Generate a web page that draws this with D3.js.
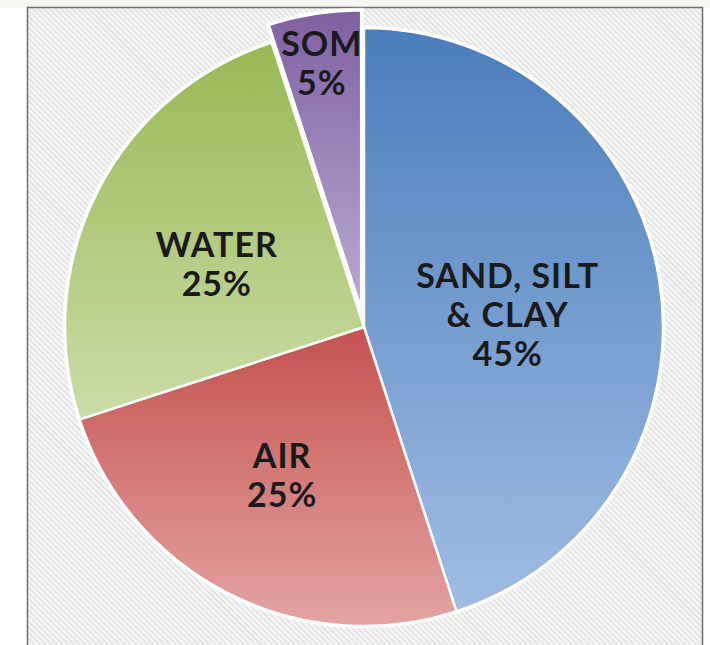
<!DOCTYPE html>
<html lang="en">
<head>
<meta charset="utf-8">
<title>Soil composition pie</title>
<script src="https://cdn.jsdelivr.net/npm/d3@7"></script>
<style>
  body { margin: 0; background: #ffffff; }
  svg { display: block; }
</style>
</head>
<body>
<script>
  // data
  var categories = ["SAND, SILT & CLAY", "AIR", "WATER", "SOM"];
  var nameLines = [["SAND, SILT", "& CLAY"], ["AIR"], ["WATER"], ["SOM"]];
  var values = [45, 25, 25, 5];
  var percentLabels = ["45%", "25%", "25%", "5%"];

  // layout / style
  var w = 710, h = 645;
  var cx = 364, cy = 327, r = 299;
  var explode = [0, 0, 0, 18];
  var topColors = ["#4a7dbb", "#c4524f", "#98b954", "#7f60a2"];
  var bottomColors = ["#a0bde3", "#e3a4a2", "#cadca7", "#bbabd1"];
  // labels were hand placed in the original, so nudge them off the centroid
  var labelNudge = [[-4, 11], [-14, 15], [-14, 5], [-16, -98]];
  var lineHeight = 39;

  var svg = d3.select("body").append("svg")
      .attr("width", w)
      .attr("height", h);

  var defs = svg.append("defs");

  // hatched background
  var pat = defs.append("pattern")
      .attr("id", "hatch")
      .attr("patternUnits", "userSpaceOnUse")
      .attr("width", 4)
      .attr("height", 4)
      .attr("patternTransform", "rotate(-45)");
  pat.append("rect").attr("width", 4).attr("height", 4).attr("fill", "#f5f5f5");
  pat.append("rect").attr("width", 1.4).attr("height", 4).attr("fill", "#e0e0e0");

  svg.append("rect")
      .attr("width", w).attr("height", 8)
      .attr("fill", "#f7f6f0");

  svg.append("rect")
      .attr("x", 27.5).attr("y", 7.5)
      .attr("width", 675).attr("height", 650)
      .attr("fill", "url(#hatch)")
      .attr("stroke", "#6e6e6e")
      .attr("stroke-width", 1.5);

  var pie = d3.pie().sort(null).value(function(d) { return d; });
  var arcs = pie(values);

  var arc = d3.arc().innerRadius(0).outerRadius(r);
  var labelArc = d3.arc().innerRadius(r * 0.5).outerRadius(r * 0.5);

  arcs.forEach(function(d, i) {
    var g = defs.append("linearGradient")
        .attr("id", "grad" + i)
        .attr("x1", 0).attr("y1", 0).attr("x2", 0).attr("y2", 1);
    g.append("stop").attr("offset", "0%").attr("stop-color", topColors[i]);
    g.append("stop").attr("offset", "100%").attr("stop-color", bottomColors[i]);
  });

  function shift(d, i) {
    var mid = (d.startAngle + d.endAngle) / 2;
    return [Math.sin(mid) * explode[i], -Math.cos(mid) * explode[i]];
  }

  var pieG = svg.append("g")
      .attr("transform", "translate(" + cx + "," + cy + ")");

  // soft halo round the pie
  pieG.selectAll("path.halo")
      .data(arcs)
      .enter()
      .append("path")
      .attr("class", "halo")
      .attr("transform", function(d, i) { return "translate(" + shift(d, i) + ")"; })
      .attr("d", arc)
      .attr("fill", "none")
      .attr("stroke", "#ffffff")
      .attr("stroke-opacity", 0.7)
      .attr("stroke-width", 5);

  pieG.selectAll("path.slice")
      .data(arcs)
      .enter()
      .append("path")
      .attr("class", "slice")
      .attr("transform", function(d, i) { return "translate(" + shift(d, i) + ")"; })
      .attr("d", arc)
      .attr("fill", function(d, i) { return "url(#grad" + i + ")"; })
      .attr("stroke", "#ffffff")
      .attr("stroke-width", 2.5)
      .attr("stroke-linejoin", "round");

  // labels
  var labels = pieG.selectAll("text")
      .data(arcs)
      .enter()
      .append("text")
      .attr("text-anchor", "middle")
      .attr("font-family", "Lato, 'Open Sans', sans-serif")
      .attr("font-weight", "bold")
      .attr("font-size", "34px")
      .attr("letter-spacing", "1px")
      .attr("fill", "#1a1a1a")
      .attr("transform", function(d, i) {
        var c = labelArc.centroid(d);
        var s = shift(d, i);
        return "translate(" + (c[0] + s[0] + labelNudge[i][0]) + "," + (c[1] + s[1] + labelNudge[i][1]) + ")";
      });

  labels.each(function(d, i) {
    var lines = nameLines[i].concat([percentLabels[i]]);
    var t = d3.select(this);
    var y0 = -(lines.length - 1) * lineHeight / 2 + 12;
    lines.forEach(function(line, j) {
      t.append("tspan")
       .attr("x", 0)
       .attr("y", y0 + j * lineHeight)
       .text(line);
    });
  });
</script>
</body>
</html>
